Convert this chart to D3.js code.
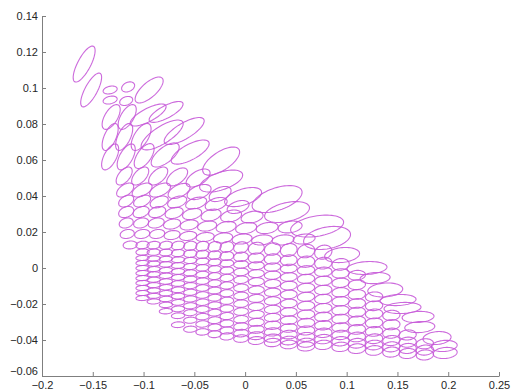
<!DOCTYPE html>
<html>
<head>
<meta charset="utf-8">
<script src="https://cdn.jsdelivr.net/npm/d3@7"></script>
<style>
body { margin: 0; background: #fff; }
svg text { font-family: Arial, "Liberation Sans", sans-serif; font-size: 11px; fill: #262626; }
</style>
</head>
<body>
<svg id="chart" width="517" height="390"></svg>
<script>
const xTicks = [-0.2, -0.15, -0.1, -0.05, 0, 0.05, 0.1, 0.15, 0.2, 0.25];
const yTicks = [-0.06, -0.04, -0.02, 0, 0.02, 0.04, 0.06, 0.08, 0.1, 0.12, 0.14];

// lower mesh: shared columns, one row of centres per line
const colX = [-0.101, -0.090, -0.078, -0.066, -0.054, -0.042, -0.030, -0.018, -0.004, 0.011, 0.027,
              0.043, 0.060, 0.077, 0.094, 0.110, 0.127, 0.144, 0.160, 0.177, 0.193];
const colSx = [0.0065, 0.0065, 0.0065, 0.0065, 0.0065, 0.0065, 0.0065, 0.0067, 0.0072, 0.0078, 0.0080,
               0.0082, 0.0085, 0.0085, 0.0085, 0.0085, 0.0085, 0.0085, 0.0085, 0.0085, 0.0085];
const colSy = [0.0014, 0.0014, 0.0015, 0.0016, 0.0017, 0.0018, 0.0019, 0.0020, 0.0021, 0.0022, 0.0023,
               0.0024, 0.0025, 0.0026, 0.0026, 0.0027, 0.0027, 0.0028, 0.0028, 0.0028, 0.0028];
const rowStart = [0, 0, 0, 0, 0, 0, 0, 0, 0, 0, 0, 2, 3];
const rowSyScale = [1.5, 1.25, 1, 1, 1, 1, 1, 1, 1, 1, 1, 1, 1];
const rowRho = [0.15, 0.1, 0.1, 0.1, 0.1, 0.1, 0.1, 0.1, 0.1, 0.1, 0.1, 0.1, 0.1];
const rowY = [
  [0.0128, 0.0127, 0.0126, 0.0125, 0.0123, 0.0121, 0.0119, 0.0117, 0.0114, 0.0110, 0.0105, 0.0100, 0.0094, 0.0088],
  [0.0089, 0.0088, 0.0086, 0.0083, 0.0080, 0.0076, 0.0072, 0.0067, 0.0062, 0.0056, 0.0050, 0.0043, 0.0035, 0.0027, 0.0020],
  [0.0056, 0.0053, 0.0050, 0.0046, 0.0042, 0.0037, 0.0032, 0.0026, 0.0020, 0.0013, 0.0005, -0.0003, -0.0012, -0.0021, -0.0030, -0.0040],
  [0.0028, 0.0024, 0.0020, 0.0014, 0.0008, 0.0001, -0.0006, -0.0014, -0.0022, -0.0031, -0.0040, -0.0050, -0.0060, -0.0071, -0.0082, -0.0093],
  [0.0000, -0.0006, -0.0012, -0.0019, -0.0027, -0.0036, -0.0045, -0.0055, -0.0065, -0.0076, -0.0087, -0.0098, -0.0110, -0.0122, -0.0135, -0.0147, -0.0160],
  [-0.0028, -0.0035, -0.0043, -0.0052, -0.0062, -0.0073, -0.0085, -0.0097, -0.0110, -0.0122, -0.0135, -0.0147, -0.0160, -0.0172, -0.0185, -0.0197, -0.0210],
  [-0.0056, -0.0065, -0.0075, -0.0086, -0.0098, -0.0111, -0.0125, -0.0140, -0.0155, -0.0169, -0.0183, -0.0197, -0.0210, -0.0223, -0.0235, -0.0245, -0.0255, -0.0263],
  [-0.0083, -0.0095, -0.0107, -0.0121, -0.0135, -0.0150, -0.0165, -0.0182, -0.0198, -0.0214, -0.0230, -0.0244, -0.0258, -0.0271, -0.0283, -0.0294, -0.0305, -0.0315],
  [-0.0111, -0.0125, -0.0140, -0.0156, -0.0172, -0.0190, -0.0207, -0.0225, -0.0242, -0.0258, -0.0275, -0.0290, -0.0305, -0.0318, -0.0330, -0.0341, -0.0352, -0.0362, -0.0372],
  [-0.0139, -0.0155, -0.0172, -0.0191, -0.0210, -0.0229, -0.0248, -0.0267, -0.0285, -0.0302, -0.0318, -0.0333, -0.0347, -0.0360, -0.0372, -0.0383, -0.0393, -0.0403, -0.0412, -0.0421],
  [-0.0167, -0.0186, -0.0205, -0.0227, -0.0248, -0.0270, -0.0290, -0.0308, -0.0325, -0.0341, -0.0355, -0.0370, -0.0383, -0.0395, -0.0407, -0.0418, -0.0428, -0.0438, -0.0447, -0.0456],
  [-0.0240, -0.0265, -0.0290, -0.0311, -0.0330, -0.0347, -0.0362, -0.0376, -0.0390, -0.0403, -0.0415, -0.0427, -0.0438, -0.0448, -0.0458, -0.0467, -0.0475, -0.0483],
  [-0.0315, -0.0340, -0.0355, -0.0368, -0.0380, -0.0392, -0.0403, -0.0414, -0.0425, -0.0436]
];

// upper fan and row ends, one entry per ellipse
const freeX = [
  -0.1585,
  -0.1516, -0.1329, -0.1152, -0.0945,
  -0.1329, -0.1171,
  -0.1319, -0.1161, -0.0955, -0.0778,
  -0.1329, -0.1191, -0.1024, -0.0817, -0.0600,
  -0.1329, -0.1171, -0.0994, -0.0787, -0.0541, -0.0236,
  -0.1191, -0.1033, -0.0856, -0.0669, -0.0463, -0.0236,
  -0.1181, -0.1014, -0.0837, -0.0650, -0.0453, -0.0246, -0.0020,
  -0.1171, -0.1014, -0.0846, -0.0669, -0.0482, -0.0285, -0.0069, 0.0315,
  -0.1171, -0.1024, -0.0866, -0.0699, -0.0522, -0.0335, -0.0138, 0.0069, 0.0413,
  -0.1171, -0.1024, -0.0876, -0.0719, -0.0551, -0.0374, -0.0187, 0.0010, 0.0217, 0.0443, 0.0709,
  -0.1161, -0.1014, -0.0866, -0.0719, -0.0561, -0.0394, -0.0217, -0.0030, 0.0167, 0.0374, 0.0581, 0.0807,
  -0.1132, 0.0955, 0.1200, 0.1280, 0.1380, 0.1506, 0.1550, 0.1703, 0.1720, 0.1890, 0.1960, 0.1970
];
const freeY = [
  0.1133,
  0.0989, 0.0989, 0.1006, 0.0989,
  0.0933, 0.0928,
  0.0839, 0.0839, 0.0850, 0.0867,
  0.0728, 0.0728, 0.0728, 0.0739, 0.0761,
  0.0617, 0.0617, 0.0622, 0.0628, 0.0644, 0.0594,
  0.0511, 0.0511, 0.0511, 0.0506, 0.0500, 0.0483,
  0.0433, 0.0433, 0.0433, 0.0428, 0.0422, 0.0411, 0.0394,
  0.0372, 0.0372, 0.0367, 0.0367, 0.0361, 0.0356, 0.0339, 0.0383,
  0.0311, 0.0311, 0.0311, 0.0306, 0.0300, 0.0294, 0.0289, 0.0283, 0.0311,
  0.0250, 0.0250, 0.0250, 0.0244, 0.0239, 0.0233, 0.0228, 0.0222, 0.0222, 0.0228, 0.0233,
  0.0189, 0.0189, 0.0189, 0.0183, 0.0178, 0.0172, 0.0167, 0.0161, 0.0156, 0.0156, 0.0161, 0.0167,
  0.0128, 0.0072, 0.0000, -0.0056, -0.0122, -0.0178, -0.0222, -0.0272, -0.0328, -0.0389, -0.0433, -0.0472
];
const freeSx = [
  0.0108,
  0.0103, 0.0069, 0.0064, 0.0138,
  0.0069, 0.0064,
  0.0089, 0.0089, 0.0177, 0.0167,
  0.0079, 0.0084, 0.0098, 0.0207, 0.0197,
  0.0084, 0.0089, 0.0098, 0.0138, 0.0187, 0.0182,
  0.0079, 0.0084, 0.0094, 0.0103, 0.0118, 0.0212,
  0.0084, 0.0098, 0.0103, 0.0108, 0.0118, 0.0108, 0.0182,
  0.0074, 0.0084, 0.0089, 0.0094, 0.0103, 0.0108, 0.0108, 0.0246,
  0.0074, 0.0079, 0.0084, 0.0089, 0.0094, 0.0098, 0.0103, 0.0108, 0.0221,
  0.0069, 0.0074, 0.0079, 0.0084, 0.0089, 0.0094, 0.0098, 0.0103, 0.0108, 0.0118, 0.0261,
  0.0069, 0.0074, 0.0074, 0.0079, 0.0084, 0.0089, 0.0094, 0.0098, 0.0103, 0.0108, 0.0108, 0.0231,
  0.0069, 0.0172, 0.0197, 0.0148, 0.0172, 0.0177, 0.0182, 0.0157, 0.0148, 0.0138, 0.0128, 0.0118
];
const freeSy = [
  0.0100,
  0.0094, 0.0022, 0.0028, 0.0072,
  0.0022, 0.0025,
  0.0069, 0.0069, 0.0061, 0.0058,
  0.0075, 0.0075, 0.0075, 0.0083, 0.0075,
  0.0072, 0.0072, 0.0069, 0.0067, 0.0067, 0.0078,
  0.0050, 0.0050, 0.0050, 0.0050, 0.0050, 0.0061,
  0.0039, 0.0039, 0.0039, 0.0042, 0.0042, 0.0042, 0.0053,
  0.0033, 0.0033, 0.0033, 0.0033, 0.0033, 0.0036, 0.0036, 0.0075,
  0.0031, 0.0031, 0.0031, 0.0031, 0.0031, 0.0033, 0.0033, 0.0033, 0.0058,
  0.0028, 0.0028, 0.0028, 0.0028, 0.0028, 0.0028, 0.0031, 0.0031, 0.0031, 0.0033, 0.0061,
  0.0025, 0.0025, 0.0025, 0.0025, 0.0025, 0.0025, 0.0028, 0.0028, 0.0028, 0.0028, 0.0028, 0.0064,
  0.0022, 0.0042, 0.0036, 0.0031, 0.0039, 0.0031, 0.0031, 0.0031, 0.0031, 0.0036, 0.0031, 0.0031
];
const freeRho = [
  0.75,
  0.75, 0.3, 0.3, 0.7,
  0.3, 0.3,
  0.6, 0.6, 0.75, 0.75,
  0.6, 0.6, 0.6, 0.75, 0.75,
  0.6, 0.6, 0.6, 0.65, 0.7, 0.65,
  0.55, 0.55, 0.55, 0.55, 0.55, 0.55,
  0.5, 0.5, 0.5, 0.5, 0.45, 0.45, 0.5,
  0.4, 0.4, 0.4, 0.4, 0.4, 0.4, 0.4, 0.5,
  0.3, 0.3, 0.3, 0.3, 0.3, 0.3, 0.3, 0.3, 0.4,
  0.25, 0.25, 0.25, 0.25, 0.25, 0.25, 0.25, 0.25, 0.25, 0.25, 0.35,
  0.2, 0.2, 0.2, 0.2, 0.2, 0.2, 0.2, 0.2, 0.2, 0.2, 0.2, 0.3,
  0.1, 0.2, 0.15, 0.15, 0.15, 0.15, 0.15, 0.15, 0.15, 0.15, 0.15, 0.15
];

const width = 517, height = 390;
const margin = {top: 16, right: 18, bottom: 14, left: 42};

const svg = d3.select("#chart");

const x = d3.scaleLinear().domain([-0.2, 0.25]).range([margin.left, width - margin.right]);
const y = d3.scaleLinear().domain([-0.06, 0.14]).range([height - margin.bottom, margin.top]);

// collect every ellipse
const ellipses = [];
rowY.forEach((ys, r) => {
    ys.forEach((cy, k) => {
        const c = rowStart[r] + k;
        ellipses.push({cx: colX[c], cy: cy, sx: colSx[c], sy: colSy[c] * rowSyScale[r], rho: rowRho[r]});
    });
});
freeX.forEach((cx, i) => {
    ellipses.push({cx: cx, cy: freeY[i], sx: freeSx[i], sy: freeSy[i], rho: freeRho[i]});
});

// ellipse outline: x = sx cos t, y = sy sin(t + asin(rho))
const steps = d3.range(64);
const line = d3.line()
    .x(d => x(d[0]))
    .y(d => y(d[1]))
    .curve(d3.curveLinearClosed);

function outline(e) {
    const phi = Math.asin(e.rho);
    return steps.map(i => {
        const t = i / steps.length * 2 * Math.PI;
        return [e.cx + e.sx * Math.cos(t), e.cy + e.sy * Math.sin(t + phi)];
    });
}

svg.append("g")
    .selectAll("path")
    .data(ellipses)
    .join("path")
    .attr("d", d => line(outline(d)))
    .attr("fill", "none")
    .attr("stroke", "#c65ad8")
    .attr("stroke-width", 1.1)
    .attr("stroke-opacity", 0.9);

// matlab style labels
const fmt = d => (d < 0 ? "\u2212" : "") + String(Math.round(Math.abs(d) * 100) / 100);

const gy = svg.append("g")
    .attr("transform", "translate(" + margin.left + ",0)")
    .call(d3.axisLeft(y).tickValues(yTicks).tickFormat(fmt)
        .tickSizeInner(-4).tickSizeOuter(0).tickPadding(4));

const gx = svg.append("g")
    .attr("transform", "translate(0," + (height - margin.bottom) + ")")
    .call(d3.axisBottom(x).tickValues(xTicks).tickFormat(fmt)
        .tickSizeInner(-4).tickSizeOuter(0).tickPadding(5));

// lift the corner label a bit so it clears "-0.2"
gy.selectAll(".tick text").filter(d => d === yTicks[0]).attr("dy", "-0.1em");

svg.selectAll(".domain, .tick line").attr("stroke", "#7f7f7f");
</script>
</body>
</html>
